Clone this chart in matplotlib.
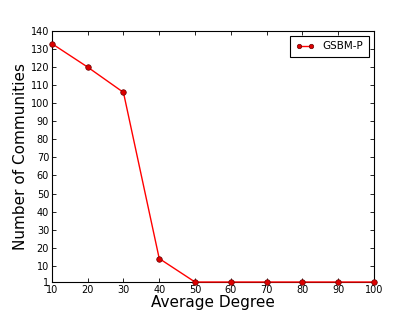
import matplotlib
matplotlib.use("Agg")
import matplotlib.pyplot as plt

degrees = [10, 20, 30, 40, 50, 60, 70, 80, 90, 100]
communities = [133, 120, 106, 14, 1, 1, 1, 1, 1, 1]
series_label = "GSBM-P"
yticks = [1, 10, 20, 30, 40, 50, 60, 70, 80, 90, 100, 110, 120, 130, 140]
xticks = [10, 20, 30, 40, 50, 60, 70, 80, 90, 100]

fig = plt.figure(figsize=(4.15, 3.13), dpi=100)
ax = fig.add_axes([0.125, 0.099, 0.776, 0.802])
ax.plot(degrees, communities, color="red", marker="o", markersize=4,
        markerfacecolor="#dd0000", markeredgecolor="#660000", markeredgewidth=0.5,
        linewidth=1, label=series_label, clip_on=False, zorder=3)
ax.set_xlim(10, 100)
ax.set_ylim(1, 140)
ax.set_xticks(xticks)
ax.set_yticks(yticks)
ax.tick_params(direction="in", top=True, right=True, labelsize=7, length=3, width=0.6, pad=2)
for s in ax.spines.values():
    s.set_linewidth(0.8)
ax.set_xlabel("Average Degree", fontsize=11, labelpad=0)
ax.set_ylabel("Number of Communities", fontsize=11, labelpad=2)
leg = ax.legend(loc="upper right", fontsize=7.5, numpoints=2, fancybox=False,
                framealpha=1, edgecolor="black", handlelength=1.8, borderpad=0.5,
                markerscale=0.8)
leg.get_frame().set_linewidth(0.8)
fig.savefig("out.png", dpi=100)
